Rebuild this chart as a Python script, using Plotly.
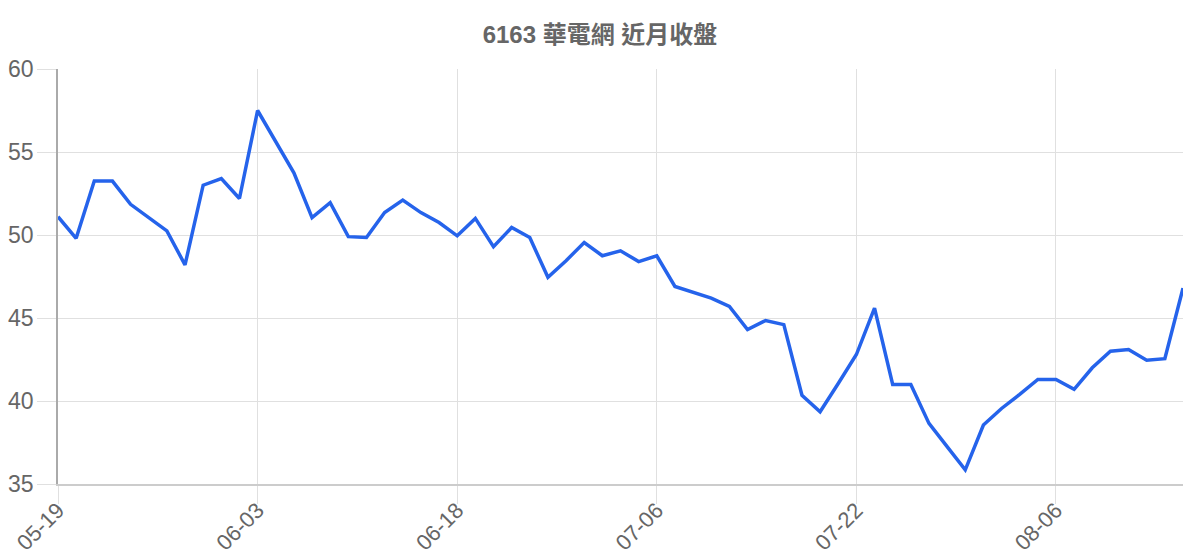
import plotly.graph_objects as go

dates = [
    "05-19", "05-20", "05-21", "05-22", "05-25", "05-26", "05-27", "05-28", "05-29", "06-01", "06-02", "06-03",
    "06-04", "06-05", "06-08", "06-09", "06-10", "06-11", "06-12", "06-15", "06-16", "06-17", "06-18",
    "06-22", "06-23", "06-24", "06-25", "06-26", "06-29", "06-30", "07-01", "07-02", "07-03", "07-06",
    "07-07", "07-08", "07-09", "07-10", "07-13", "07-14", "07-15", "07-16", "07-17", "07-20", "07-22",
    "07-23", "07-24", "07-27", "07-28", "07-29", "07-30", "07-31", "08-03", "08-04", "08-05", "08-06",
    "08-07", "08-10", "08-11", "08-12", "08-13", "08-14", "08-17",
]

close = [
    51.1, 49.8, 53.25, 53.25, 51.85, 51.05, 50.25, 48.2, 53.0, 53.4, 52.2, 57.5,
    55.6, 53.75, 51.05, 51.95, 49.9, 49.85, 51.35, 52.1, 51.35, 50.75, 49.95,
    51.0, 49.3, 50.45, 49.85, 47.45, 48.45, 49.55, 48.75, 49.05, 48.4, 48.75,
    46.9, 46.55, 46.2, 45.7, 44.3, 44.85, 44.6, 40.35, 39.35, 41.05, 42.8,
    45.6, 41.0, 41.0, 38.65, 37.25, 35.85, 38.55, 39.55, 40.4, 41.3, 41.3,
    40.7, 42.0, 43.0, 43.1, 42.45, 42.55, 46.8,
]

tick_labels = ["05-19", "06-03", "06-18", "07-06", "07-22", "08-06"]
y_ticks = [35, 40, 45, 50, 55, 60]

fig = go.Figure()
fig.add_trace(go.Scatter(
    x=dates, y=close, mode="lines",
    line=dict(color="#2563eb", width=3.5),
    hoverinfo="x+y",
))

fig.update_layout(
    width=1200, height=560,
    paper_bgcolor="white", plot_bgcolor="white",
    margin=dict(l=58, r=17, t=69, b=76, autoexpand=False),
    showlegend=False,
    font=dict(family="Liberation Sans, Arial, sans-serif", color="#666666"),
    title=dict(
        text="<b>6163 華電網 近月收盤</b>",
        x=0.5, xanchor="center", xref="container",
        y=1 - 35 / 560, yanchor="middle", yref="container",
        font=dict(size=24, color="#666666",
                  family="Liberation Sans, Noto Sans CJK TC, Arial, sans-serif"),
    ),
)

fig.update_xaxes(
    type="category", automargin=False,
    tickmode="array", tickvals=tick_labels, ticktext=tick_labels,
    tickangle=-45,
    tickfont=dict(size=22, color="#666666"),
    ticklabelstandoff=-15,
    showgrid=True, gridcolor="#e0e0e0", gridwidth=1,
    ticks="outside", ticklen=18, tickcolor="#e0e0e0", tickwidth=1,
    showline=True, linecolor="#cccccc", linewidth=1.5,
    range=[0, len(dates) - 1],
    zeroline=False,
)
fig.update_yaxes(
    range=[35, 60], tickvals=y_ticks, automargin=False,
    tickfont=dict(size=23, color="#666666"),
    ticklabelstandoff=-1,
    showgrid=True, gridcolor="#e0e0e0", gridwidth=1,
    ticks="outside", ticklen=19, tickcolor="#e0e0e0", tickwidth=1,
    showline=True, linecolor="#aaaaaa", linewidth=1.5,
    zeroline=False,
)

fig.write_html(
    "out.html",
    config={"displayModeBar": False},
    post_script="document.body.style.margin='0px';document.body.style.overflow='hidden';",
)
